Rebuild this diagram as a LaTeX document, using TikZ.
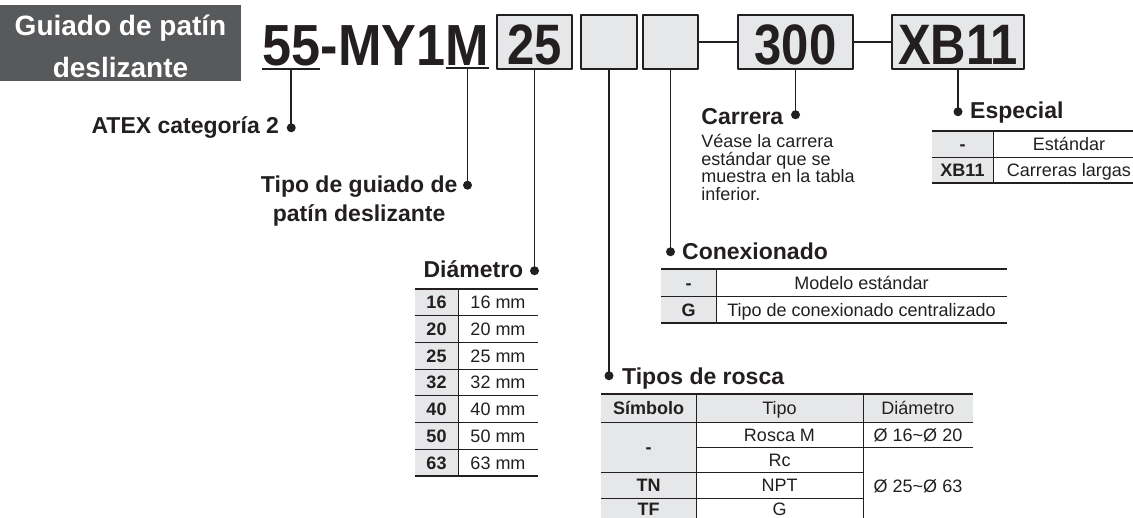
\documentclass[tikz,border=0pt]{standalone}
\usepackage{fontspec}
\setmainfont{Liberation Sans}
\newfontfamily\codefont[FakeStretch=0.9]{Liberation Sans}
\newfontfamily\boxfont[FakeStretch=0.86]{Liberation Sans}

\definecolor{ink}{HTML}{231F20}
\definecolor{titlegray}{HTML}{58595B}
\definecolor{boxgray}{HTML}{E6E7E8}
\definecolor{cellgray}{HTML}{E6E7E8}

\begin{document}
\begin{tikzpicture}[
  x=1pt, y=-1pt,
  line join=round,
  titletext/.style={inner sep=0, text=white, align=center, font=\bfseries\fontsize{28}{42}\selectfont},
  heading/.style={inner sep=0, text=ink, font=\bfseries\fontsize{23}{29}\selectfont},
  note/.style={inner sep=0, text=ink, font=\fontsize{18}{17.7}\selectfont},
  codetext/.style={inner sep=0, text=ink, font=\codefont\bfseries\fontsize{58}{58}\selectfont},
  codebox/.style={draw=ink, line width=1.5pt, fill=boxgray, inner sep=0, minimum height=54pt,
    text height=44pt, text depth=0pt, text=ink, font=\boxfont\bfseries\fontsize{57}{57}\selectfont},
  leader/.style={line width=1.5pt, draw=ink},
  symcell/.style={inner sep=0, text height=13pt, text depth=0pt, text=ink, font=\bfseries\fontsize{18}{18}\selectfont},
  desccell/.style={inner sep=0, text height=13pt, text depth=0pt, text=ink, font=\fontsize{18}{18}\selectfont},
  tabletop/.style={line width=2pt, draw=ink},
  rowline/.style={line width=0.8pt, draw=ink},
  tablebottom/.style={line width=1.2pt, draw=ink},
]
\useasboundingbox (0,0) rectangle (1133,517);

% ── title plate and the order code ────────────────────────────────────────
\fill[titlegray] (0,5) rectangle (241,81);
\node[titletext, anchor=north] (title) at (120.5,15) {Guiado de patín\\deslizante};

\node[codetext, anchor=base west] (n55)  at (262,65)        {55};
\node[codetext, anchor=base west] (nmid) at (n55.base east)  {-MY1};
\node[codetext, anchor=base west] (nM)   at (nmid.base east) {M};
\draw[leader] ([yshift=-3pt]n55.south west) -- ([yshift=-3pt]n55.south east);
\draw[leader] ([yshift=-3pt]nM.south west)  -- ([yshift=-3pt]nM.south east);

\node[codebox, minimum width=75pt]  (bbore)    at (534.5,42) {25};
\node[codebox, minimum width=56pt]  (bthread)  at (609,42)   {};
\node[codebox, minimum width=55pt]  (bport)    at (670.5,42) {};
\node[codebox, minimum width=115pt] (bstroke)  at (795.5,42) {300};
\node[codebox, minimum width=132pt] (bspecial) at (958,42)   {XB11};

\draw[leader] (bport.east)   -- (bstroke.west);
\draw[leader] (bstroke.east) -- (bspecial.west);

% ── leaders, each ending in a dot ─────────────────────────────────────────
\draw[leader] ([yshift=-3pt]n55.south) -- ++(0,59)  coordinate (atexdot);
\draw[leader] ([yshift=-3pt]nM.south)  -- ++(0,117) coordinate (guidedot);
\draw[leader] (bbore.south)    -- ++(0,201) coordinate (diadot);
\draw[leader] (bthread.south)  -- ++(0,306) coordinate (threaddot);
\draw[leader] (bport.south)    -- ++(0,182) coordinate (portdot);
\draw[leader] (bstroke.south)  -- ++(0,45)  coordinate (strokedot);
\draw[leader] (bspecial.south) -- ++(0,42)  coordinate (specdot);
\foreach \p in {atexdot,guidedot,diadot,threaddot,portdot,strokedot,specdot}
  \fill[ink] (\p) circle (4.5pt);

\node[heading, anchor=base east] (atex) at ([xshift=-12pt, yshift=-6pt]atexdot) {ATEX categoría 2};
\node[heading, align=center, anchor=north east] (guide) at ([xshift=-10pt, yshift=9.5pt]guidedot)
  {Tipo de guiado de\\patín deslizante};
\node[heading, anchor=base east] (dia) at ([xshift=-11pt, yshift=-7pt]diadot) {Diámetro};
\node[heading, anchor=base west] (thread) at ([xshift=13pt, yshift=-9pt]threaddot) {Tipos de rosca};
\node[heading, anchor=base west] (port) at ([xshift=11.5pt, yshift=-8pt]portdot) {Conexionado};
\node[heading, anchor=base east] (stroke) at ([xshift=-12pt, yshift=-10pt]strokedot) {Carrera};
\node[heading, anchor=base west] (special) at ([xshift=12pt, yshift=-7pt]specdot) {Especial};

\node[note, align=left, anchor=north west] (strokenote) at ([yshift=-8.7pt]stroke.south west)
  {Véase la carrera\\estándar que se\\muestra en la tabla\\inferior.};

% ── bore table ────────────────────────────────────────────────────────────
\begin{scope}[shift={(415,289)}]
  \fill[cellgray] (0,0) rectangle (43,187);
  \draw[tabletop] (0,0) -- (123,0);
  \foreach \n in {1,...,6}
    \draw[rowline] (0,26.7*\n) -- (123,26.7*\n);
  \draw[tablebottom] (0,187) -- (123,187);
  \draw[rowline] (43,0) -- (43,187);
  \foreach \d [count=\n] in {16,20,25,32,40,50,63} {
    \node[symcell]  (dia\d)   at (21.5,26.7*\n-13.35) {\d};
    \node[desccell] (diamm\d) at (83,26.7*\n-13.35)   {\d\ mm};
  }
\end{scope}

% ── port table ────────────────────────────────────────────────────────────
\begin{scope}[shift={(661,269)}]
  \fill[cellgray] (0,0) rectangle (55,54);
  \draw[tabletop] (0,0) -- (346,0);
  \draw[rowline] (0,27) -- (346,27);
  \draw[tablebottom] (0,54) -- (346,54);
  \draw[rowline] (55,0) -- (55,54);
  \node[symcell]  (pstd)  at (27.5,13.5)  {-};
  \node[desccell] (pstdt) at (200.5,13.5) {Modelo estándar};
  \node[symcell]  (pg)    at (27.5,40.5)  {G};
  \node[desccell] (pgt)   at (200.5,40.5) {Tipo de conexionado centralizado};
\end{scope}

% ── special table, running off the right edge ─────────────────────────────
\begin{scope}[shift={(932,131)}]
  \fill[cellgray] (0,0) rectangle (61,52);
  \draw[tabletop] (0,0) -- (213,0);
  \draw[rowline] (0,26) -- (213,26);
  \draw[tablebottom] (0,52) -- (213,52);
  \draw[rowline] (61,0) -- (61,52);
  \node[symcell]  (sstd)  at (30.5,13) {-};
  \node[desccell] (sstdt) at (137,13)  {Estándar};
  \node[symcell]  (sxb)   at (30.5,39) {XB11};
  \node[desccell] (sxbt)  at (137,39)  {Carreras largas};
\end{scope}

% ── thread table, cut by the bottom edge ──────────────────────────────────
\begin{scope}[shift={(601,394)}]
  \fill[cellgray] (0,0) rectangle (372,28);
  \fill[cellgray] (0,28) rectangle (95,130);
  \draw[tabletop] (0,0) -- (372,0);
  \draw[rowline] (0,28) -- (372,28);
  \draw[rowline] (95,53) -- (372,53);
  \draw[rowline] (0,78) -- (262,78);
  \draw[rowline] (0,104) -- (262,104);
  \draw[tablebottom] (0,130) -- (372,130);
  \draw[rowline] (95,0) -- (95,130);
  \draw[rowline] (262,0) -- (262,130);

  \node[symcell]  (hsym)   at (47.5,14)   {Símbolo};
  \node[desccell] (htype)  at (178.5,14)  {Tipo};
  \node[desccell] (hdia)   at (317,14)    {Diámetro};
  \node[symcell]  (tstd)   at (47.5,53)   {-};
  \node[desccell] (tm)     at (178.5,40.5) {Rosca M};
  \node[desccell] (trc)    at (178.5,65.5) {Rc};
  \node[symcell]  (ttn)    at (47.5,91)   {TN};
  \node[desccell] (tnpt)   at (178.5,91)  {NPT};
  \node[symcell]  (ttf)    at (47.5,114.5) {TF};
  \node[desccell] (tg)     at (178.5,114.5) {G};
  \node[desccell] (tsmall) at (317,40.5)  {Ø 16\textasciitilde Ø 20};
  \node[desccell] (tlarge) at (317,91.5)  {Ø 25\textasciitilde Ø 63};
\end{scope}

\end{tikzpicture}
\end{document}
